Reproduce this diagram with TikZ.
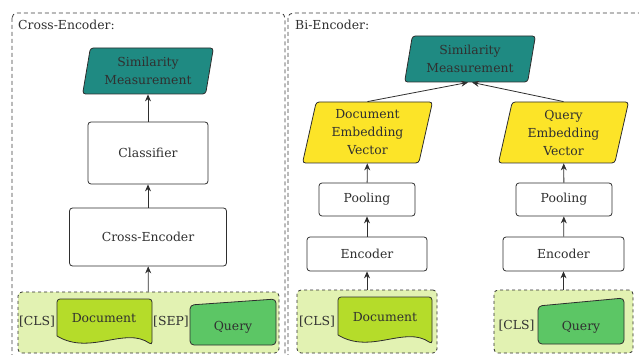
\documentclass[tikz,border=0pt]{standalone}
\usepackage{fontspec}
\setmainfont{DejaVu Serif}
\usetikzlibrary{shapes.geometric,arrows.meta}
\definecolor{simteal}{HTML}{1F8A82}
\definecolor{embyellow}{HTML}{FCE428}
\definecolor{inlime}{HTML}{E2F2B2}
\definecolor{doclime}{HTML}{B5DC2A}
\definecolor{qgreen}{HTML}{5CC665}
\definecolor{edgegray}{HTML}{2E2E2E}
\definecolor{txtgray}{HTML}{303030}
\definecolor{framegray}{HTML}{3C3C3C}
\begin{document}
\begin{tikzpicture}[x=1pt,y=-1pt,>={Stealth[length=7pt,width=6pt]},
  font=\fontsize{12.4}{18}\selectfont,text=txtgray,
  box/.style={draw=edgegray,line width=0.8pt,rounded corners=3pt,fill=white},
  parbox/.style={trapezium,trapezium stretches=true,trapezium left angle=78,
    trapezium right angle=102,draw=edgegray,line width=0.8pt,rounded corners=3pt,
    align=center,minimum width=131pt,inner sep=0pt},
  inputbox/.style={draw=edgegray,dashed,line width=0.8pt,rounded corners=4pt,fill=inlime},
  frame/.style={draw=framegray,dash pattern=on 4pt off 3pt,line width=0.8pt,rounded corners=5pt}]
\useasboundingbox (0,0) rectangle (639,355);

% frames
\draw[frame] (12,13) rectangle (285,370);
\draw[frame] (288,13) rectangle (660,370);
\node[anchor=west,inner sep=0pt] (crosstitle) at (18,25) {Cross-Encoder:};
\node[anchor=west,inner sep=0pt] (bititle) at (295,25) {Bi-Encoder:};

% cross-encoder
\node[parbox,fill=simteal,minimum height=46pt] (crosssim) at (148,71) {Similarity\\Measurement};
\node[box,minimum width=120pt,minimum height=62pt] (classifier) at (148,153) {Classifier};
\node[box,minimum width=157pt,minimum height=58pt] (crossenc) at (148,237) {Cross-Encoder};
\node[inputbox,minimum width=261pt,minimum height=61pt] (crossin) at (148.5,322.5) {};
\draw[fill=doclime,draw=edgegray,line width=0.8pt,rounded corners=3pt] (57,336) -- (57,299) -- (152,299) -- (152,345)
  [sharp corners] .. controls (125,326) and (90,356) .. (57,336);
\draw[fill=qgreen,draw=edgegray,line width=0.8pt,rounded corners=4pt] (190,305) -- (276,299) -- (276,345) -- (190,345) -- cycle;
\node (crosscls) at (37,322) {[CLS]};
\node (crossdoc) at (104,318) {Document};
\node (crosssep) at (171,322) {[SEP]};
\node (crossquery) at (233,327) {Query};
\draw[->,edgegray,line width=0.8pt] (crossin) -- (crossenc);
\draw[->,edgegray,line width=0.8pt] (crossenc) -- (classifier);
\draw[->,edgegray,line width=0.8pt] (classifier) -- (crosssim);

% bi-encoder
\node[parbox,fill=simteal,minimum height=46pt] (bisim) at (470,59) {Similarity\\Measurement};
\node[parbox,fill=embyellow,minimum height=61pt] (docemb) at (367.5,132.5) {Document\\Embedding\\Vector};
\node[parbox,fill=embyellow,minimum height=61pt] (queryemb) at (563.5,132.5) {Query\\Embedding\\Vector};
\node[box,minimum width=96pt,minimum height=33pt] (docpool) at (367,199.5) {Pooling};
\node[box,minimum width=96pt,minimum height=33pt] (querypool) at (564,199.5) {Pooling};
\node[box,minimum width=120pt,minimum height=34pt] (docenc) at (367,254) {Encoder};
\node[box,minimum width=121pt,minimum height=34pt] (queryenc) at (563.5,254) {Encoder};
\node[inputbox,minimum width=140pt,minimum height=63pt] (docin) at (367,321.5) {};
\node[inputbox,minimum width=139pt,minimum height=63pt] (queryin) at (563.5,321.5) {};
\draw[fill=doclime,draw=edgegray,line width=0.8pt,rounded corners=3pt] (338,335) -- (338,297) -- (432,297) -- (432,344)
  [sharp corners] .. controls (405,325) and (371,355) .. (338,335);
\draw[fill=qgreen,draw=edgegray,line width=0.8pt,rounded corners=4pt] (538,306) -- (624,298) -- (624,344) -- (538,344) -- cycle;
\node (doccls) at (317,322) {[CLS]};
\node (docdoc) at (385,317) {Document};
\node (querycls) at (516.5,326) {[CLS]};
\node (queryquery) at (581,327) {Query};
\draw[->,edgegray,line width=0.8pt] (docin) -- (docenc);
\draw[->,edgegray,line width=0.8pt] (docenc) -- (docpool);
\draw[->,edgegray,line width=0.8pt] (docpool) -- (docemb);
\draw[->,edgegray,line width=0.8pt] (queryin) -- (queryenc);
\draw[->,edgegray,line width=0.8pt] (queryenc) -- (querypool);
\draw[->,edgegray,line width=0.8pt] (querypool) -- (queryemb);
\draw[->,edgegray,line width=0.8pt] (docemb.north) -- ([xshift=-2pt]bisim.south);
\draw[->,edgegray,line width=0.8pt] (queryemb.north) -- ([xshift=2pt]bisim.south);

\end{tikzpicture}
\end{document}
